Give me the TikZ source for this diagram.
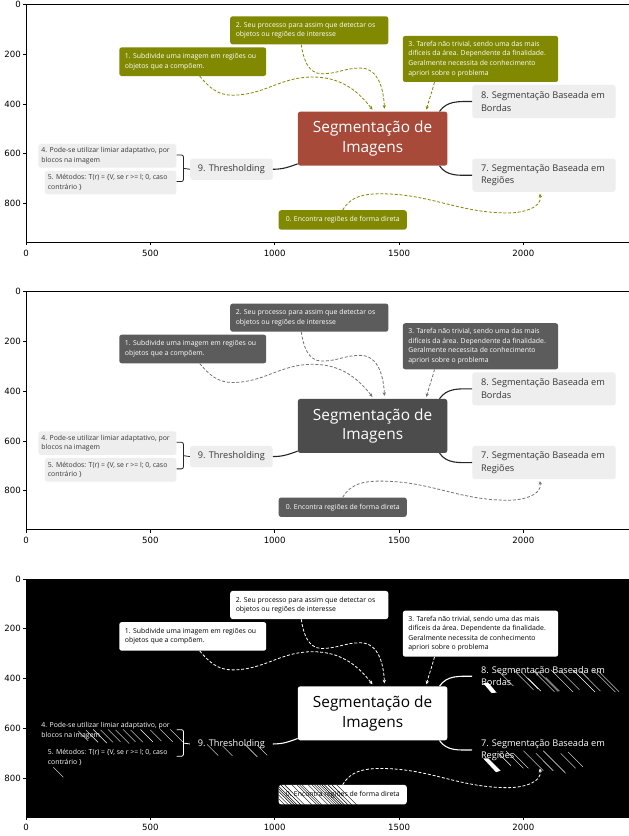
\documentclass[tikz,border=0pt]{standalone}
\usepackage{fontspec}
\setmainfont{Open Sans}
\newfontfamily\tickfont{DejaVu Sans}
\usetikzlibrary{fit,arrows.meta}
\definecolor{xgreen}{RGB}{128,137,0}
\definecolor{xred}{RGB}{168,74,58}
\definecolor{xlight}{RGB}{238,238,238}
\definecolor{xtext}{RGB}{55,55,55}
\tikzset{
 box/.style={inner sep=0pt, rounded corners=2.5pt, draw=none},
 smalltxt/.style={inner sep=0pt, align=left, font=\fontsize{6.9}{9.6}\selectfont},
 midtxt/.style={inner sep=0pt, align=left, font=\fontsize{9.2}{12.6}\selectfont},
 bigtxt/.style={inner sep=0pt, align=center, font=\fontsize{15.4}{19.5}\selectfont},
 link/.style={line width=1.1pt, draw=linecol},
 bracelink/.style={line width=0.8pt, draw=linecol, rounded corners=2pt},
 dashlink/.style={dash pattern=on 3pt off 1.8pt, line width=0.8pt, draw=dashcol, -{Stealth[length=3.6pt,width=3.4pt]}},
 ticklab/.style={inner sep=0pt, font=\tickfont\fontsize{8.6}{10}\selectfont},
 spine/.style={line width=0.8pt, draw=black},
 hatchw/.style={draw=white, line width=0.4pt},
 hatchb/.style={draw=black, line width=0.4pt},
}
\newcommand\mindpanel[1]{%
 \fill[axbg] (0,0) rectangle (2440,956);
 % boxes
 \node[box, fill=gbox, fit={(375,173)(966,288)}] (#1n1) {};
 \node[smalltxt, text=gtext, anchor=west, xshift=5.6pt] (#1n1t) at (#1n1.west) {1. Subdivide uma imagem em regiões ou\\objetos que a compõem.};
 \node[box, fill=gbox, fit={(821,48)(1457,161)}] (#1n2) {};
 \node[smalltxt, text=gtext, anchor=west, xshift=5.6pt] (#1n2t) at (#1n2.west) {2. Seu processo para assim que detectar os\\objetos ou regiões de interesse};
 \node[box, fill=gbox, fit={(1515,127)(2140,312)}] (#1n3) {};
 \node[smalltxt, text=gtext, anchor=west, xshift=5.6pt] (#1n3t) at (#1n3.west) {3. Tarefa não trivial, sendo uma das mais\\difíceis da área. Dependente da finalidade.\\Geralmente necessita de conhecimento\\apriori sobre o problema};
 \node[box, fill=cbox, fit={(1093,431)(1694,648)}] (#1c) {};
 \node[bigtxt, text=ctext] (#1ct) at (#1c.center) {Segmentação de\\Imagens};
 \node[box, fill=lbox, fit={(1795,324)(2371,457)}] (#1n8) {};
 \node[midtxt, text=ltext, anchor=west, xshift=8.6pt] (#1n8t) at (#1n8.west) {8. Segmentação Baseada em\\Bordas};
 \node[box, fill=lbox, fit={(1795,620)(2371,753)}] (#1n7) {};
 \node[midtxt, text=ltext, anchor=west, xshift=8.6pt] (#1n7t) at (#1n7.west) {7. Segmentação Baseada em\\Regiões};
 \node[box, fill=lbox, fit={(660,620)(992,705)}] (#1n9) {};
 \node[midtxt, text=ltext] (#1n9t) at (#1n9.center) {9. Thresholding};
 \node[box, fill=lbox, fit={(50,561)(605,656)}] (#1n4) {};
 \node[smalltxt, text=ltext, anchor=west, xshift=3pt] (#1n4t) at (#1n4.west) {4. Pode-se utilizar limiar adaptativo, por\\blocos na imagem};
 \node[box, fill=lbox, fit={(76,669)(605,763)}] (#1n5) {};
 \node[smalltxt, text=ltext, anchor=west, xshift=3pt] (#1n5t) at (#1n5.west) {5. Métodos: T(r) = \{V, se r >= l; 0, caso\\contrário \}};
 \node[box, fill=gbox, fit={(1016,827)(1531,905)}] (#1n0) {};
 \node[smalltxt, text=gtext] (#1n0t) at (#1n0.center) {0. Encontra regiões de forma direta};
 % solid links
 \draw[link] ([xshift=-8pt]#1c.north east) to[out=55,in=180] (#1n8.west);
 \draw[link] ([xshift=-8pt]#1c.south east) to[out=-55,in=180] (#1n7.west);
 \draw[link] (#1n9.east) to[out=0,in=200] ([yshift=2pt]#1c.south west);
 \coordinate (#1bt) at (606,605);
 \coordinate (#1bb) at (606,712);
 \coordinate (#1bm) at (633,659);
 \draw[bracelink] (#1bt) -- (633,605) -- (633,712) -- (#1bb);
 \draw[bracelink] (#1bm) -- (#1n9.west);
 % dashed arrows
 \coordinate (#1e1) at (1393,423);
 \coordinate (#1e2) at (1441,419);
 \coordinate (#1e3) at (1610,423);
 \coordinate (#1e0) at (2066,761);
 \draw[dashlink] ([xshift=7pt]#1n1.south) to[out=-50,in=180] (830,365) to[out=0,in=180] (1151,292) to[out=0,in=128] (#1e1);
 \draw[dashlink] ([xshift=-8pt]#1n2.south) to[out=-82,in=180] (1190,279) to[out=0,in=180] (1344,256) to[out=0,in=92] (#1e2);
 \draw[dashlink] ([xshift=-46pt]#1n3.south) to[out=-105,in=75] (#1e3);
 \draw[dashlink] (#1n0.north) to[out=60,in=180] (1425,761) to[out=0,in=180] (1940,838) to[out=0,in=-80] (#1e0);
}
\newcommand\axesframe[1]{%
 \draw[spine] (2440,0) -- (0,0) -- (0,956) -- (2440,956);
 \foreach \yy in {0,200,400,600,800}{
  \draw[spine] (0,\yy) -- ++(-3pt,0pt);
  \node[ticklab, anchor=east] (#1y\yy) at ([xshift=-5pt]0,\yy) {\yy};
 }
 \foreach \xx in {0,500,1000,1500,2000}{
  \draw[spine] (\xx,956) -- ++(0pt,-3pt);
  \node[ticklab, anchor=north] (#1x\xx) at ([yshift=-7.2pt]\xx,956) {\xx};
 }
}
\begin{document}
\begin{tikzpicture}
\useasboundingbox[fill=white] (0pt,0pt) rectangle (629pt,-836pt);
% panel 1
\begin{scope}[shift={(26pt,-4.3pt)}, x=0.2487pt, y=-0.249pt]
 \colorlet{axbg}{white}\colorlet{gbox}{xgreen}\colorlet{gtext}{white}
 \colorlet{cbox}{xred}\colorlet{ctext}{white}\colorlet{lbox}{xlight}
 \colorlet{ltext}{xtext}\colorlet{linecol}{black!85}\colorlet{dashcol}{xgreen}
 \mindpanel{a}
 \axesframe{a}
\end{scope}
% panel 2
\begin{scope}[shift={(26pt,-291.6pt)}, x=0.2487pt, y=-0.249pt]
 \colorlet{axbg}{white}\colorlet{gbox}{black!64}\colorlet{gtext}{white}
 \colorlet{cbox}{black!70}\colorlet{ctext}{white}\colorlet{lbox}{xlight}
 \colorlet{ltext}{xtext}\colorlet{linecol}{black!85}\colorlet{dashcol}{black!55}
 \mindpanel{b}
 \axesframe{b}
\end{scope}
% panel 3
\begin{scope}[shift={(26pt,-579pt)}, x=0.2487pt, y=-0.249pt]
 \colorlet{axbg}{black}\colorlet{gbox}{white}\colorlet{gtext}{black}
 \colorlet{cbox}{white}\colorlet{ctext}{black}\colorlet{lbox}{black}
 \colorlet{ltext}{white}\colorlet{linecol}{white}\colorlet{dashcol}{white}
 \mindpanel{c}
 % threshold artefacts
 \foreach \hx/\hy/\hl in {1900/370/60,1960/365/80,1990/372/70,2040/368/85,2060/372/80,2110/364/90,2150/370/75,2200/366/88,2230/370/80,2280/364/90,2300/368/85,2020/400/50,2090/395/55,
  1900/700/50,1930/690/70,1960/700/60,2000/690/80,2050/700/70,2080/690/90,2150/700/60,2180/695/60,
  210/610/40,240/606/50,270/604/55,300/606/50,330/604/50,360/606/55,390/604/50,420/606/50,460/604/50,500/606/45,540/604/50,580/604/50,
  728/664/45,790/670/40,880/664/50,930/668/40,110/756/40}
  \draw[hatchw] (\hx,\hy) -- ++(\hl,\hl);
 \fill[white] (1838,418) -- (1860,418) -- (1892,456) -- (1872,458) -- cycle;
 \fill[white] (1838,720) -- (1858,720) -- (1908,770) -- (1890,776) -- cycle;
 \begin{scope}
  \clip (1016,827) rectangle (1355,905);
  \foreach \hx in {960,975,990,1000,1010,1025,1040,1070,1090,1100,1110,1135,1150,1160,1170,1180,1190,1200,1215,1230,1250}
   \draw[hatchb] (\hx,827) -- ++(85,85);
 \end{scope}
 \axesframe{c}
\end{scope}
\end{tikzpicture}
\end{document}
